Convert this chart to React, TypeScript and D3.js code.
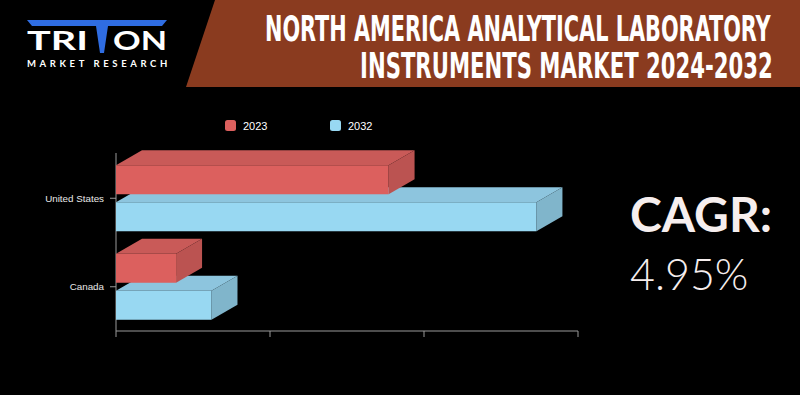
import React, { useEffect, useRef, useState } from "react";
import * as d3 from "d3";

const categories = ["United States", "Canada"];
const seriesNames = ["2023", "2032"];
const values2023 = [1.77, 0.39];
const values2032 = [2.73, 0.62];
const xTicks = [0, 1, 2, 3];
const titleLines = ["NORTH AMERICA ANALYTICAL LABORATORY", "INSTRUMENTS MARKET 2024-2032"];
const cagrLabel = "CAGR:";
const cagrValue = "4.95%";

const W = 800;
const H = 395;

const palette = [
  { front: "#dc605e", top: "#c95a58", side: "#bb5351" },
  { front: "#98d8f2", top: "#8dc5de", side: "#80b5cb" },
];

function FitText(props: {
  x: number;
  y: number;
  width: number;
  children: string;
  fontSize: number;
  fontFamily: string;
  fontWeight?: number;
  fill: string;
}) {
  const ref = useRef<SVGTextElement>(null);
  const [sx, setSx] = useState(1);
  useEffect(() => {
    if (ref.current) {
      const len = ref.current.getComputedTextLength();
      if (len > 0) setSx(props.width / len);
    }
  }, [props.width, props.children]);
  return (
    <text
      ref={ref}
      transform={`translate(${props.x},${props.y}) scale(${sx},1)`}
      fill={props.fill}
      fontFamily={props.fontFamily}
      fontWeight={props.fontWeight}
      fontSize={props.fontSize}
    >
      {props.children}
    </text>
  );
}

export default function App() {
  const x = d3.scaleLinear().domain([0, 3]).range([116, 578]);
  const y0 = d3
    .scaleBand<string>()
    .domain(categories)
    .range([154, 331])
    .paddingInner(0.254)
    .paddingOuter(0.127);
  const y1 = d3
    .scaleBand<string>()
    .domain(seriesNames)
    .range([0, y0.bandwidth()])
    .paddingInner(0.216);
  const dx = 26;
  const dy = -15;
  const seriesValues = [values2023, values2032];

  const bars: any[] = [];
  categories.forEach((c, ci) => {
    seriesNames.forEach((s, si) => {
      bars.push({ c, s, si, v: seriesValues[si][ci] });
    });
  });
  const ordered = bars
    .map((b) => ({ ...b, yy: (y0(b.c) as number) + (y1(b.s) as number) }))
    .sort((a, b) => b.yy - a.yy);

  const titleFont = "'Liberation Sans Narrow', 'DejaVu Sans Condensed', sans-serif";

  return (
    <svg
      width={W}
      height={H}
      style={{ position: "fixed", left: 0, top: 0, display: "block" }}
    >
      <rect x={0} y={0} width={W} height={H} fill="#000" />
      {/* header banner */}
      <polygon points={`215,0 ${W},0 ${W},87 186,87`} fill="#8a3b1f" />
      <FitText x={265} y={40.5} width={506} fill="#fff" fontFamily={titleFont} fontWeight={700} fontSize={35}>
        {titleLines[0]}
      </FitText>
      <FitText x={360} y={78} width={413} fill="#fff" fontFamily={titleFont} fontWeight={700} fontSize={35}>
        {titleLines[1]}
      </FitText>

      {/* logo */}
      <polygon
        points="27,20 167,20 162,26 108,26 104,53 100,53 96,26 32,26"
        fill="#2f6de2"
      />
      <FitText x={27} y={50} width={61} fill="#fff" fontFamily="Lato, sans-serif" fontWeight={700} fontSize={26}>
        TRI
      </FitText>
      <FitText x={113} y={50} width={54} fill="#fff" fontFamily="Lato, sans-serif" fontWeight={700} fontSize={26}>
        ON
      </FitText>
      <text
        x={27}
        y={67}
        fill="#fff"
        fontFamily="Lato, sans-serif"
        fontWeight={700}
        fontSize={9.5}
        letterSpacing={3.6}
      >
        MARKET RESEARCH
      </text>

      {/* legend */}
      {seriesNames.map((s, i) => (
        <g key={s} transform={`translate(${i === 0 ? 225 : 330},120)`}>
          <rect width={11} height={11} rx={2.5} fill={palette[i].front} />
          <text
            x={18}
            y={10}
            fill="#fff"
            fontFamily="'Liberation Sans', Arial, sans-serif"
            fontSize={11}
          >
            {s}
          </text>
        </g>
      ))}

      {/* axes */}
      <line x1={116} x2={116} y1={153} y2={331} stroke="#9a9a9a" strokeWidth={1} />
      <line x1={116} x2={578} y1={331} y2={331} stroke="#9a9a9a" strokeWidth={1} />
      {xTicks.map((t) => (
        <line key={t} x1={x(t)} x2={x(t)} y1={331} y2={337} stroke="#9a9a9a" />
      ))}
      {categories.map((c) => {
        const cy = (y0(c) as number) + y0.bandwidth() / 2;
        return (
          <g key={c}>
            <line x1={110} x2={116} y1={cy} y2={cy} stroke="#9a9a9a" />
            <text
              x={104}
              y={cy + 3.5}
              textAnchor="end"
              fill="#e8e8e8"
              fontFamily="'Liberation Sans', Arial, sans-serif"
              fontSize={9.8}
            >
              {c}
            </text>
          </g>
        );
      })}

      {/* 3D bars */}
      {ordered.map((b) => {
        const x0 = x(0);
        const x1 = x(b.v);
        const top = b.yy;
        const bot = b.yy + y1.bandwidth();
        const col = palette[b.si];
        return (
          <g key={b.c + b.s}>
            <polygon
              points={`${x0},${top} ${x0 + dx},${top + dy} ${x1 + dx},${top + dy} ${x1},${top}`}
              fill={col.top}
            />
            <polygon
              points={`${x1},${top} ${x1 + dx},${top + dy} ${x1 + dx},${bot + dy} ${x1},${bot}`}
              fill={col.side}
            />
            <rect x={x0} y={top} width={x1 - x0} height={bot - top} fill={col.front} />
          </g>
        );
      })}

      {/* CAGR */}
      <text
        x={630}
        y={232}
        fill="#f6eeee"
        fontFamily="Lato, sans-serif"
        fontWeight={700}
        fontSize={48}
      >
        {cagrLabel}
      </text>
      <text
        x={630}
        y={290}
        fill="#f6eeee"
        fontFamily="Lato, sans-serif"
        fontWeight={300}
        fontSize={43}
      >
        {cagrValue}
      </text>
    </svg>
  );
}
